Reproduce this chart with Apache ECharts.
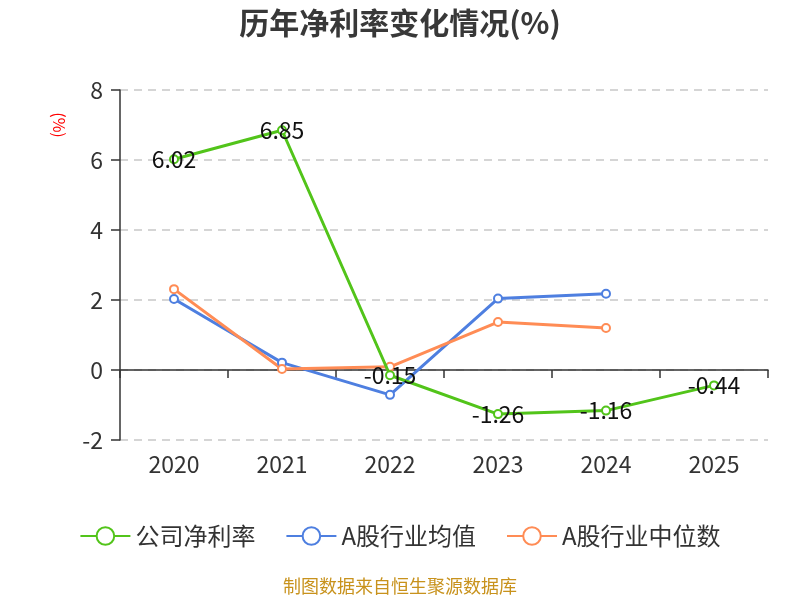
<!DOCTYPE html>
<html>
<head>
<meta charset="utf-8">
<script src="https://cdn.jsdelivr.net/npm/echarts@6/dist/echarts.min.js"></script>
<style>
html, body { margin: 0; padding: 0; background: #fff; }
#main { width: 800px; height: 600px; }
</style>
</head>
<body>
<div id="main"></div>
<script>
// 数据
var years = ['2020', '2021', '2022', '2023', '2024', '2025'];
var companyRate = [6.02, 6.85, -0.15, -1.26, -1.16, -0.44];
var industryAvg = [2.03, 0.21, -0.71, 2.04, 2.18, null];
var industryMedian = [2.31, 0.03, 0.09, 1.37, 1.2, null];
var seriesNames = ['公司净利率', 'A股行业均值', 'A股行业中位数'];
var seriesColors = ['#52c41a', '#4e7fe0', '#ff8c55'];

var FONT = '"Noto Sans CJK SC", "Noto Sans", sans-serif';
var myChart = echarts.init(document.getElementById('main'));

var option = {
	backgroundColor: '#fff',
	title: {
		text: '历年净利率变化情况(%)',
		left: 'center',
		top: 3,
		textStyle: { fontSize: 30, fontWeight: 'bold', color: '#383838', fontFamily: FONT }
	},
	legend: {
		data: seriesNames,
		top: 519,
		left: 'center',
		itemWidth: 50,
		itemHeight: 22,
		itemGap: 30,
		textStyle: { fontSize: 24, color: '#333', fontFamily: FONT }
	},
	graphic: [{
		type: 'text',
		left: 'center',
		top: 577,
		style: { text: '制图数据来自恒生聚源数据库', fill: '#c8921c', font: '18px ' + FONT }
	}, {
		// 单位
		type: 'text',
		x: 59,
		y: 125,
		rotation: -Math.PI / 2,
		style: { text: '(%)', fill: '#ff0000', font: '16px ' + FONT, textAlign: 'center', textVerticalAlign: 'middle' }
	}],
	grid: { left: 120, right: 32, top: 90, bottom: 160 },
	xAxis: [{
		// 零轴线和刻度
		type: 'category',
		data: years,
		axisLine: { onZero: true, lineStyle: { color: '#333', width: 1.5 } },
		axisTick: { show: true, length: 8, lineStyle: { color: '#333', width: 1.5 } },
		axisLabel: { show: false },
		splitLine: { show: false }
	}, {
		// 底部标签
		type: 'category',
		data: years,
		position: 'bottom',
		axisLine: { show: false, onZero: false },
		axisTick: { show: false },
		axisLabel: { fontSize: 23, color: '#333', margin: 13, fontFamily: FONT },
		splitLine: { show: false }
	}],
	yAxis: {
		type: 'value',
		min: -2,
		max: 8,
		interval: 2,
		axisLine: { show: true, lineStyle: { color: '#333', width: 1.5 } },
		axisTick: { show: true, length: 9, lineStyle: { color: '#333', width: 1.5 } },
		axisLabel: { fontSize: 23, color: '#333', margin: 17, fontFamily: FONT },
		splitLine: { show: true, lineStyle: { color: '#c8c8c8', type: [8, 6], width: 1.5 } }
	},
	series: [{
		name: seriesNames[0],
		type: 'line',
		data: companyRate,
		symbol: 'emptyCircle',
		symbolSize: 8,
		color: seriesColors[0],
		lineStyle: { width: 3 },
		label: {
			show: true,
			position: 'inside',
			color: '#111',
			fontSize: 23,
			fontFamily: FONT
		},
		z: 3
	}, {
		name: seriesNames[1],
		type: 'line',
		data: industryAvg,
		symbol: 'emptyCircle',
		symbolSize: 8,
		color: seriesColors[1],
		lineStyle: { width: 3 },
		z: 2
	}, {
		name: seriesNames[2],
		type: 'line',
		data: industryMedian,
		symbol: 'emptyCircle',
		symbolSize: 8,
		color: seriesColors[2],
		lineStyle: { width: 3 },
		z: 2
	}]
};

myChart.setOption(option);
window.onresize = myChart.resize;
</script>
</body>
</html>
